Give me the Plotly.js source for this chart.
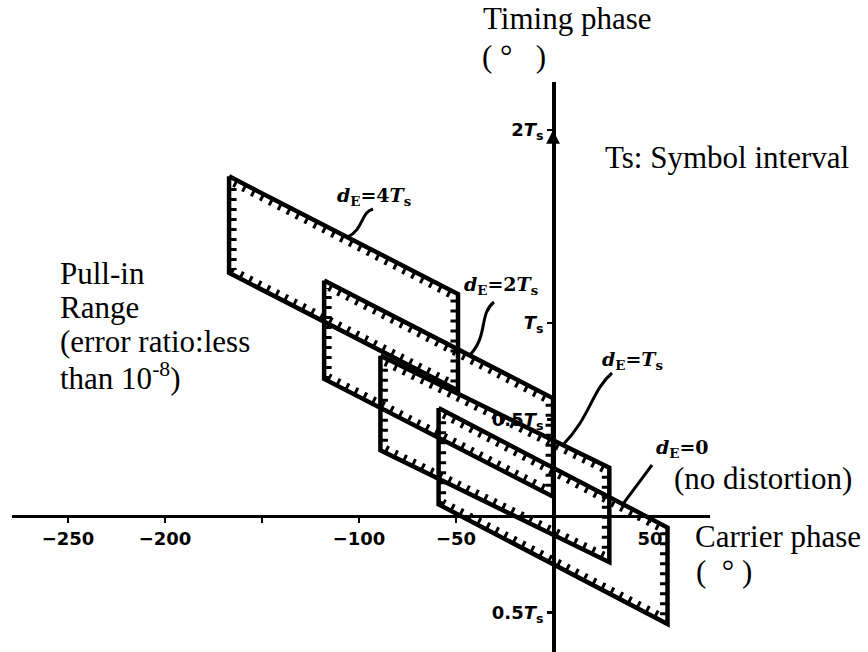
<!DOCTYPE html>
<html><head><meta charset="utf-8">
<script src="https://cdn.plot.ly/plotly-3.0.1.min.js"></script>
<style>html,body{margin:0;padding:0;background:#fff}#chart{width:868px;height:652px}</style>
</head><body><div id="chart"></div>
<script>
// Pull-in range regions for each delay distortion d_E
// carrier phase in degrees, timing phase in units of the symbol interval Ts
const distortionLabels = ['4T', '2T', 'T', '0'];
const carrierLeft    = [-167, -118, -89, -59];
const carrierRight   = [ -49,    0,  29,  59];
const timingTopLeft  = [1.76, 1.22, 0.83, 0.56];
const timingTopRight = [1.15, 0.61, 0.25, -0.06];
const rangeHeight    = [0.50, 0.51, 0.49, 0.50];

// axis ticks
const xTickVals = [-250, -200, -150, -100, -50, 50];
const xTickText = ['\u2212250', '\u2212200', '', '\u2212100', '\u221250', '50'];
const yTickVals = [-0.5, 0.5, 1, 2];
const yTickText = ['0.5Ts', '0.5Ts', 'Ts', '2Ts'];

// ---- layout geometry ----
const W = 868, H = 652;
const M = {l: 12, r: 158, t: 82, b: 0};
const plotW = W - M.l - M.r, plotH = H - M.t - M.b;
const xRange = [-278.9, 80.9];
const yRange = [-0.705, 2.249];
const pxPerDeg = plotW / (xRange[1] - xRange[0]);
const pxPerTs = plotH / (yRange[1] - yRange[0]);
const toPxX = v => M.l + (v - xRange[0]) * pxPerDeg;
const toPxY = v => M.t + (yRange[1] - v) * pxPerTs;
const paperX = px => (px - M.l) / plotW;
const paperY = py => 1 - (py - M.t) / plotH;

const tsHtml = s => s.replace('Ts', '<i>T</i><sub>s</sub>');
const distHtml = s => '<b><i>d</i><sub>E</sub>=' + s.replace('T', '<i>T</i><sub>s</sub>') + '</b>';

// ---- parallelogram traces: outline plus serrated inner edge ----
const traces = [];
const insetPx = 4.5;
carrierLeft.forEach((L, i) => {
  const R = carrierRight[i], tl = timingTopLeft[i], tr = timingTopRight[i], h = rangeHeight[i];
  traces.push({
    type: 'scatter', mode: 'lines', hoverinfo: 'skip', showlegend: false,
    x: [L, R, R, L, L], y: [tl, tr, tr - h, tl - h, tl],
    line: {color: '#000', width: 4.5}
  });
  const s = (tr - tl) / (R - L);
  const slopePx = Math.abs(s) * pxPerTs / pxPerDeg;
  const dx = insetPx / pxPerDeg;
  const dy = insetPx * Math.sqrt(1 + slopePx * slopePx) / pxPerTs;
  const xi = [L + dx, R - dx, R - dx, L + dx, L + dx];
  const yi = [tl + s * dx - dy, tr - s * dx - dy, tr - s * dx - h + dy, tl + s * dx - h + dy, tl + s * dx - dy];
  traces.push({
    type: 'scatter', mode: 'lines', hoverinfo: 'skip', showlegend: false,
    x: xi, y: yi,
    line: {color: '#000', width: 6, dash: '3px,7px'}
  });
});

// ---- leader labels with wavy leader lines ----
const leaderTipX = [-106, -43, 5, 36];           // where each leader touches its region (deg)
const labelPx = [[374, 197], [501, 285], [632, 360], [682, 448]];
const leaderStartPx = [[373, 209], [494, 302], [612, 373], [652, 465]];
const leaderWave = [7, 9, 7, 0];
const annotations = [];
const shapes = [];
distortionLabels.forEach((lab, i) => {
  const L = carrierLeft[i], R = carrierRight[i];
  const s = (timingTopRight[i] - timingTopLeft[i]) / (R - L);
  const tx = leaderTipX[i];
  const ty = timingTopLeft[i] + s * (tx - L);
  annotations.push({
    xref: 'paper', yref: 'paper', x: paperX(labelPx[i][0]), y: paperY(labelPx[i][1]),
    xanchor: 'center', yanchor: 'middle', text: distHtml(lab), showarrow: false,
    font: {family: 'DejaVu Serif', size: 19, color: '#000'}
  });
  // S-shaped leader from under the label down to the region edge
  const [sx, sy] = leaderStartPx[i];
  const ex = toPxX(tx), ey = toPxY(ty);
  const vx = ex - sx, vy = ey - sy, len = Math.hypot(vx, vy);
  const nx = -vy / len * leaderWave[i], ny = vx / len * leaderWave[i];
  const c1 = [sx + vx * 0.3 + nx, sy + vy * 0.3 + ny];
  const c2 = [sx + vx * 0.55 - nx, sy + vy * 0.55 - ny];
  const P = p => paperX(p[0]) + ',' + paperY(p[1]);
  shapes.push({
    type: 'path', xref: 'paper', yref: 'paper', layer: 'above',
    path: 'M' + P([sx, sy]) + ' C' + P(c1) + ' ' + P(c2) + ' ' + P([ex, ey]),
    line: {color: '#000', width: 3}
  });
});

// arrowhead at the top of the timing axis
annotations.push({x: 0, y: 2, xref: 'x', yref: 'y', ax: 0, ay: 14, text: '', showarrow: true,
  arrowhead: 2, arrowsize: 1.1, arrowwidth: 2.5, arrowcolor: '#000'});

// ---- text blocks ----
const serif = {family: 'Liberation Serif', size: 31, color: '#000'};
const textItems = [
  ['Timing phase', 481, 18],
  ['(\u00a0\u00b0\u00a0\u00a0\u00a0)', 480, 56],
  ['Ts: Symbol interval', 603, 157],
  ['Pull-in', 58, 273],
  ['Range', 58, 307],
  ['(error ratio:less', 58, 341],
  ['than 10<sup>-8</sup>)', 58, 376],
  ['(no distortion)', 672, 478],
  ['Carrier phase', 693, 536],
  ['(\u00a0\u00a0\u00b0\u00a0)', 694, 571]
];
textItems.forEach(([t, px, py]) => {
  annotations.push({
    xref: 'paper', yref: 'paper', x: paperX(px), y: paperY(py),
    xanchor: 'left', yanchor: 'middle', text: t, showarrow: false, font: serif
  });
});

const tickFont = {family: 'DejaVu Sans', size: 18, color: '#000'};
const layout = {
  width: W, height: H,
  margin: M,
  paper_bgcolor: '#fff', plot_bgcolor: 'rgba(0,0,0,0)',
  showlegend: false,
  xaxis: {
    range: xRange, anchor: 'free', position: (0 - yRange[0]) / (yRange[1] - yRange[0]),
    showline: true, linecolor: '#000', linewidth: 3.5,
    showgrid: false, zeroline: false,
    ticks: 'outside', ticklen: 5, tickwidth: 2.5, tickcolor: '#000',
    tickvals: xTickVals, ticktext: xTickText.map(t => t ? '<b>' + t + '</b>' : ''),
    tickfont: tickFont
  },
  yaxis: {
    range: yRange, anchor: 'free', position: (0 - xRange[0]) / (xRange[1] - xRange[0]),
    showline: true, linecolor: '#000', linewidth: 3.5,
    showgrid: false, zeroline: false,
    ticks: 'outside', ticklen: 5, tickwidth: 2.5, tickcolor: '#000',
    tickvals: yTickVals, ticktext: yTickText.map(t => '<b>' + tsHtml(t) + '</b>'),
    tickfont: tickFont
  },
  shapes: shapes,
  annotations: annotations
};

Plotly.newPlot('chart', traces, layout, {staticPlot: true, displayModeBar: false});
</script>
</body></html>
